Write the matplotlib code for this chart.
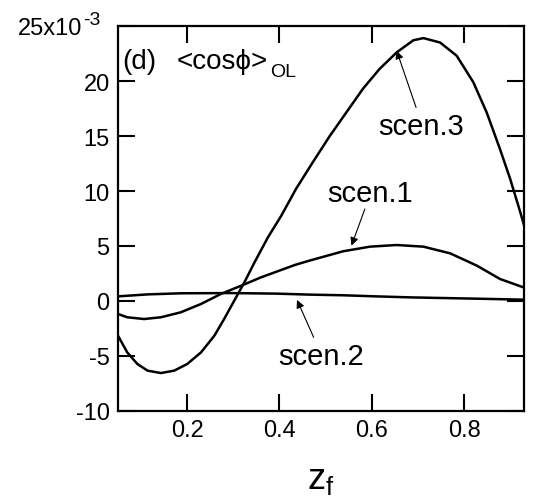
import matplotlib
matplotlib.use("Agg")
import matplotlib.pyplot as plt
from matplotlib.transforms import blended_transform_factory

plt.rcParams['font.family'] = ['Liberation Sans', 'DejaVu Sans']
plt.rcParams['mathtext.fontset'] = 'custom'
plt.rcParams['mathtext.rm'] = 'Liberation Sans'
plt.rcParams['mathtext.it'] = 'Liberation Sans'
plt.rcParams['mathtext.fallback'] = 'stixsans'

# data (values in units of 1e-3)
x3 = [0.05, 0.070, 0.092, 0.114, 0.143, 0.172, 0.200, 0.230, 0.259, 0.280, 0.302, 0.324,
      0.346, 0.375, 0.404, 0.436, 0.472, 0.509, 0.545, 0.581, 0.617, 0.654, 0.690, 0.712,
      0.748, 0.784, 0.820, 0.849, 0.878, 0.900, 0.922, 0.93]
y3 = [-3.15, -4.67, -5.73, -6.33, -6.55, -6.33, -5.73, -4.67, -3.15, -1.64, 0.03, 1.70,
      3.52, 5.79, 7.76, 10.2, 12.6, 15.0, 17.15, 19.3, 21.1, 22.6, 23.7, 23.9,
      23.5, 22.3, 19.9, 17.15, 13.8, 11.1, 8.06, 6.9]

x1 = [0.05, 0.070, 0.1065, 0.143, 0.186, 0.230, 0.273, 0.317, 0.360, 0.433, 0.465, 0.538,
      0.596, 0.654, 0.712, 0.770, 0.828, 0.878, 0.93]
y1 = [-1.18, -1.48, -1.64, -1.48, -1.03, -0.27, 0.64, 1.39, 2.15, 3.27, 3.67, 4.52,
      4.94, 5.09, 4.94, 4.33, 3.21, 2.0, 1.22]

x2 = [0.05, 0.114, 0.186, 0.295, 0.393, 0.465, 0.538, 0.61, 0.683, 0.754, 0.828, 0.93]
y2 = [0.42, 0.6, 0.7, 0.72, 0.67, 0.58, 0.52, 0.42, 0.33, 0.27, 0.21, 0.12]

xticks = [0.2, 0.4, 0.6, 0.8]
xticklabels = ['0.2', '0.4', '0.6', '0.8']
yticks = [-10, -5, 0, 5, 10, 15, 20, 25]
yticklabels = ['-10', '-5', '0', '5', '10', '15', '20', '']

fig = plt.figure(figsize=(5.39, 5.02), dpi=100)
ax = fig.add_axes([0.2189, 0.1793, 0.9722 - 0.2189, 0.9462 - 0.1793])

lw = 1.8
ax.plot(x3, y3, color='black', lw=lw)
ax.plot(x1, y1, color='black', lw=lw)
ax.plot(x2, y2, color='black', lw=lw)

ax.set_xlim(0.05, 0.93)
ax.set_ylim(-10, 25)
ax.set_xticks(xticks)
ax.set_xticklabels(xticklabels)
ax.set_yticks(yticks)
ax.set_yticklabels(yticklabels)
ax.tick_params(direction='in', length=12.5, width=1.5, labelsize=17,
               top=True, right=True, pad=6)
for s in ax.spines.values():
    s.set_linewidth(1.6)

# top y tick label with exponent
trb = blended_transform_factory(ax.transAxes, ax.transData)
ax.text(-0.0887, 24.3, '25x10', fontsize=17, ha='right', va='baseline',
        transform=trb, clip_on=False)
ax.text(-0.0862, 25.15, '-3', fontsize=14, ha='left', va='baseline',
        transform=trb, clip_on=False)

ax.set_xlabel(r'z$_\mathrm{f}$', fontsize=26, labelpad=14)

ax.text(0.0587, 21.2, '(d)', fontsize=20, va='baseline', ha='left')
ax.text(0.178, 21.2, '<cos\u03d5>', fontsize=20, va='baseline', ha='left')
ax.text(0.379, 20.5, 'OL', fontsize=14, va='baseline', ha='left')

ap = dict(arrowstyle='-|>', color='black', lw=0.8, mutation_scale=12, shrinkA=0, shrinkB=0)
ax.text(0.708, 15.2, 'scen.3', fontsize=21, ha='center', va='baseline')
ax.annotate('', xy=(0.654, 22.75), xytext=(0.696, 17.6), arrowprops=ap)
ax.text(0.596, 9.06, 'scen.1', fontsize=21, ha='center', va='baseline')
ax.annotate('', xy=(0.556, 5.03), xytext=(0.585, 8.36), arrowprops=ap)
ax.text(0.49, -5.73, 'scen.2', fontsize=21, ha='center', va='baseline')
ax.annotate('', xy=(0.438, 0.1), xytext=(0.474, -3.3), arrowprops=ap)

fig.savefig('out.png', dpi=100)
